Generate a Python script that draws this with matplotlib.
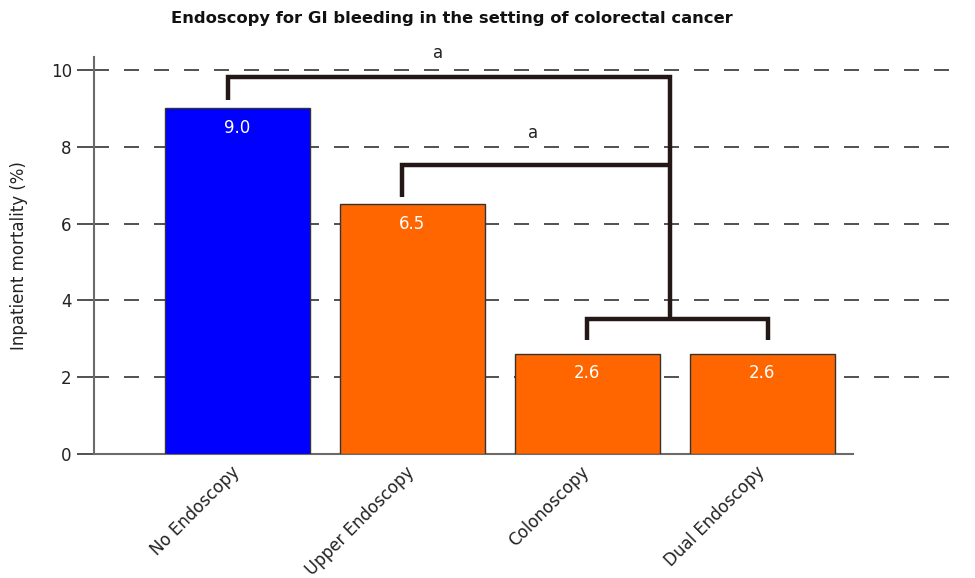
import matplotlib
matplotlib.use("Agg")
import matplotlib.pyplot as plt
from matplotlib.transforms import ScaledTranslation

categories = ["No Endoscopy", "Upper Endoscopy", "Colonoscopy", "Dual Endoscopy"]
values = [9.0, 6.5, 2.6, 2.6]
colors = ["#0000FF", "#FF6600", "#FF6600", "#FF6600"]
yticks = [0, 2, 4, 6, 8, 10]
title = "Endoscopy for GI bleeding in the setting of colorectal cancer"
ylabel = "Inpatient mortality (%)"
sig_label = "a"

plt.rcParams['font.family'] = ['DejaVu Sans']
fig = plt.figure(figsize=(9.75, 5.78), dpi=100)
ax = fig.add_axes([94/975, 124/578, 866/975, 397.4/578])

x = list(range(len(categories)))
ax.bar(x, values, width=0.83, color=colors, edgecolor="#333333", linewidth=1.0, zorder=3)

for xi, v in zip(x, values):
    ax.text(xi, v - 0.5, f"{v:.1f}", ha="center", va="center", color="white", fontsize=12, zorder=4)

for yv in yticks[1:]:
    ax.axhline(yv, color="#333333", linewidth=1.2, dashes=(9, 9), zorder=1)

bc = "#231815"
lw = 3.2
# bracket 1: No Endoscopy -> group
ax.plot([-0.054, -0.054, 2.47, 2.47], [9.22, 9.82, 9.82, 3.52], color=bc, lw=lw, zorder=5, solid_capstyle="butt", solid_joinstyle="miter")
# bracket 2: Upper Endoscopy -> group
ax.plot([0.94, 0.94, 2.47], [6.69, 7.53, 7.53], color=bc, lw=lw, zorder=5, solid_capstyle="butt", solid_joinstyle="miter")
# bracket 3: colon + dual
ax.plot([2.0, 2.0, 3.03, 3.03], [2.97, 3.52, 3.52, 2.97], color=bc, lw=lw, zorder=5, solid_capstyle="butt", solid_joinstyle="miter")

ax.text(1.146, 10.44, sig_label, ha="center", va="center", fontsize=12, color="#222222")
ax.text(1.69, 8.36, sig_label, ha="center", va="center", fontsize=12, color="#222222")

ax.set_xlim(-0.82, 4.13)
ax.set_ylim(0, 10.35)
ax.set_yticks(yticks)
ax.set_yticklabels([str(t) for t in yticks], fontsize=12, color="#222222")
ax.set_xticks(x)
ax.set_xticklabels(categories, rotation=45, ha="right", rotation_mode="anchor", fontsize=12, color="#222222")
ax.tick_params(axis="x", length=0, pad=5)
ax.tick_params(axis="y", length=12, width=1.2, color="#333333", pad=4)
offset = ScaledTranslation(-7/100, -2/100, fig.dpi_scale_trans)
for lbl in ax.get_xticklabels():
    lbl.set_transform(lbl.get_transform() + offset)

for s in ["top", "right"]:
    ax.spines[s].set_visible(False)
ax.spines["left"].set_color("#6d6a69")
ax.spines["left"].set_linewidth(1.5)
ax.spines["bottom"].set_color("#6d6a69")
ax.spines["bottom"].set_linewidth(1.5)
ax.spines["bottom"].set_bounds(-0.82, 3.52)

ax.set_ylabel(ylabel, fontsize=12, color="#222222", labelpad=16)
fig.text(452/975, 1 - 19/578, title, ha="center", va="center", fontsize=11.8, fontweight="bold", color="#111111")

fig.savefig("out.png", dpi=100)
